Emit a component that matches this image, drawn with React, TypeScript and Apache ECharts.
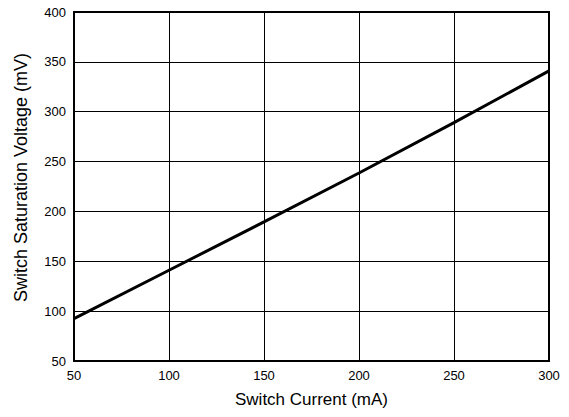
import React, { useEffect, useRef } from "react";
import * as echarts from "echarts";

const currents = [50, 100, 150, 200, 250, 300];
const voltages = [92.5, 141, 189.5, 238.5, 289, 341];
const xTitle = "Switch Current (mA)";
const yTitle = "Switch Saturation Voltage (mV)";

export default function App() {
  const ref = useRef<HTMLDivElement>(null);
  useEffect(() => {
    if (!ref.current) return;
    const chart = echarts.init(ref.current, null, { renderer: "svg" });
    const font = "Liberation Sans, Arial, sans-serif";
    chart.setOption({
      animation: false,
      backgroundColor: "#ffffff",
      grid: {
        left: 74,
        right: 20,
        top: 12,
        bottom: 56,
        show: true,
        borderColor: "#000",
        borderWidth: 2,
        backgroundColor: "transparent",
      },
      xAxis: {
        type: "value",
        min: 50,
        max: 300,
        interval: 50,
        name: xTitle,
        nameLocation: "middle",
        nameGap: 30,
        nameTextStyle: { fontFamily: font, fontSize: 17, color: "#000" },
        axisLine: { show: true, lineStyle: { color: "#000", width: 2 } },
        axisTick: { show: false },
        axisLabel: { margin: 8, fontFamily: font, fontSize: 13, color: "#000" },
        splitLine: { show: true, lineStyle: { color: "#000", width: 1 } },
      },
      yAxis: {
        type: "value",
        min: 50,
        max: 400,
        interval: 50,
        name: yTitle,
        nameLocation: "middle",
        nameGap: 44,
        nameTextStyle: {
          fontFamily: font,
          fontSize: 18,
          color: "#000",
          padding: [0, 0, 0, 18],
        },
        axisLine: { show: true, lineStyle: { color: "#000", width: 2 } },
        axisTick: { show: false },
        axisLabel: { margin: 8, fontFamily: font, fontSize: 13, color: "#000" },
        splitLine: { show: true, lineStyle: { color: "#000", width: 1 } },
      },
      series: [
        {
          type: "line",
          data: currents.map((c, i) => [c, voltages[i]]),
          showSymbol: false,
          lineStyle: { color: "#000", width: 3 },
          clip: true,
        },
      ],
    });
    return () => chart.dispose();
  }, []);
  return <div ref={ref} style={{ width: 569, height: 417, position: "absolute", left: 0, top: 0 }} />;
}
